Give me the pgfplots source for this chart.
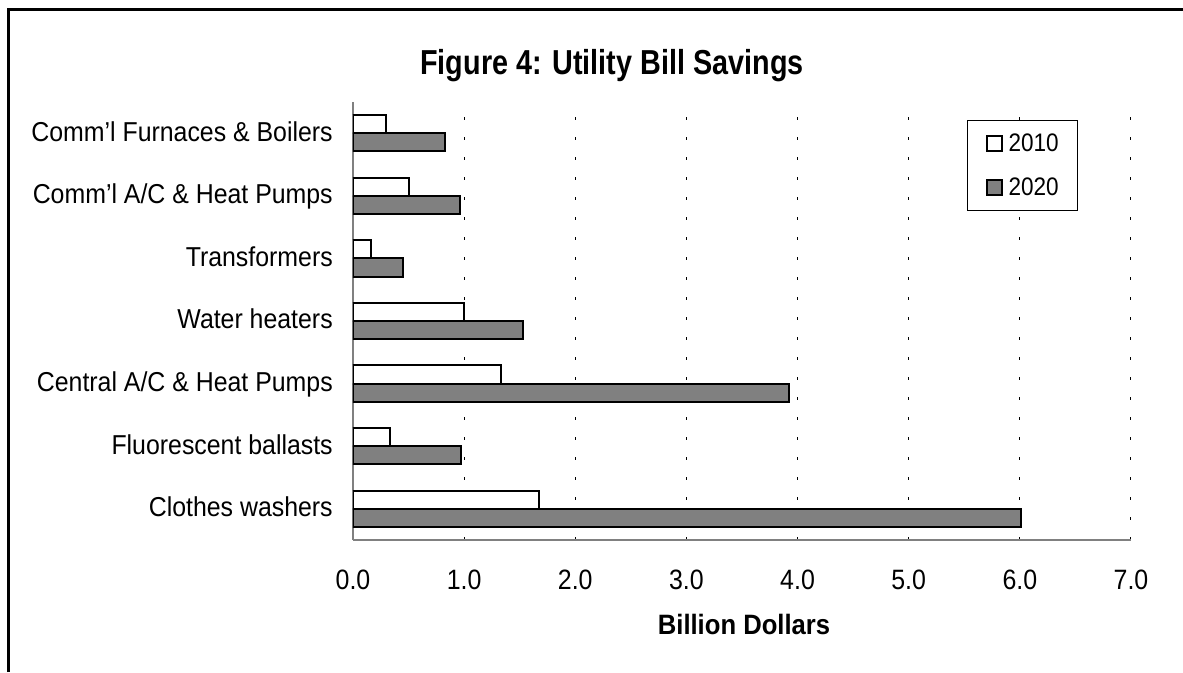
\documentclass[border=0pt]{standalone}
\usepackage{fontspec}
\setmainfont{Liberation Sans}
\usepackage{graphicx}
\usepackage{pgfplots}
\pgfplotsset{compat=1.18}
\newcommand\sq[1]{\scalebox{0.91}[1]{#1}}
\newcommand\sqn[1]{\scalebox{0.89}[1]{#1}}
\definecolor{bargrey}{HTML}{808080}
\begin{document}
\begin{tikzpicture}[x=0.75pt,y=0.75pt]
\path[use as bounding box] (0,0) rectangle (1183,672);
\draw[line width=2.25pt] (8,0) -- (8,662) -- (1186,662);
\node[anchor=base, font=\bfseries\fontsize{26}{30}\selectfont] at (612,597) {\scalebox{0.83}[1]{Figure 4: Utility Bill Savings}};
\node[anchor=base, font=\bfseries\fontsize{21}{24}\selectfont] at (744,37) {\scalebox{0.915}[1]{Billion Dollars}};
\begin{axis}[
  at={(264.75pt,99pt)}, anchor=south west,
  width=583.5pt, height=328.5pt, scale only axis,
  xbar, xmin=0, xmax=7, ymin=-0.5, ymax=6.5,
  axis x line*=bottom, axis y line*=left,
  axis line style={draw=bargrey, line width=1.5pt, -},
  major tick length=0pt,
  xtick={0,...,7},
  ytick={0,...,6},
  yticklabels={{\sq{Clothes washers}},{\sq{Fluorescent ballasts}},{\sq{Central A/C \& Heat Pumps}},{\sq{Water heaters}},{\sq{Transformers}},{\sq{Comm'l A/C \& Heat Pumps}},{\sq{Comm'l Furnaces \& Boilers}}},
  /pgf/number format/assume math mode=true,
  xticklabel={\sqn{\pgfmathprintnumber[fixed,fixed zerofill,precision=1]{\tick}}},
  xticklabel style={font=\fontsize{21}{24}\selectfont, inner sep=0pt, anchor=north, yshift=-22.5pt},
  yticklabel style={font=\fontsize{20.5}{24}\selectfont, inner sep=0pt, anchor=base east, xshift=-15pt, yshift=-6pt},
  xmajorgrids,
  major grid style={black, line width=0.75pt, dash pattern=on 2.6pt off 12.4pt},
  legend style={at={(0.789,0.959)}, anchor=north west, draw=black, line width=0.75pt,
    inner xsep=14pt, inner ysep=10pt, row sep=18pt, column sep=4.5pt,
    font=\fontsize{19}{21}\selectfont, nodes={inner sep=0pt}},
  legend cell align=left,
  legend image code/.code={\draw[#1, line width=1.2pt] (0pt,-5.6pt) rectangle (11.25pt,5.6pt);},
]
\addplot[fill=white, draw=black, line width=1.5pt, bar width=0.29, bar shift=0.146]
  coordinates {(1.67,0) (0.33,1) (1.33,2) (1.00,3) (0.16,4) (0.50,5) (0.30,6)};
\addlegendentry{\sqn{2010}}
\addplot[fill=bargrey, draw=black, line width=1.5pt, bar width=0.29, bar shift=-0.146]
  coordinates {(6.01,0) (0.97,1) (3.92,2) (1.53,3) (0.45,4) (0.96,5) (0.83,6)};
\addlegendentry{\sqn{2020}}
\end{axis}
\end{tikzpicture}
\end{document}
